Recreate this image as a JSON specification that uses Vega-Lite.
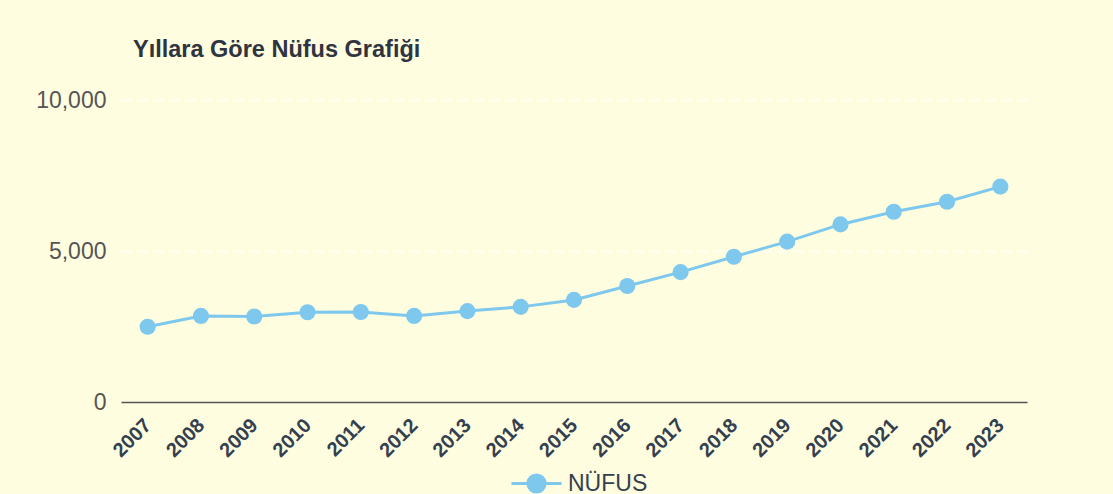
{
  "$schema": "https://vega.github.io/schema/vega-lite/v6.json",
  "width": 906,
  "height": 302,
  "autosize": {"type": "none"},
  "padding": {"left": 121, "top": 100, "right": 86, "bottom": 92},
  "background": "#fffddf",
  "config": {
    "view": {"stroke": null},
    "font": "Liberation Sans"
  },
  "title": {
    "text": "Yıllara Göre Nüfus Grafiği",
    "anchor": "start",
    "frame": "group",
    "dx": 12,
    "offset": 28,
    "fontSize": 23.5,
    "fontWeight": "bold",
    "color": "#2e3440",
    "font": "Liberation Sans"
  },
  "data": {
    "values": [
      {"year": "2007", "nufus": 2490, "series": "NÜFUS"},
      {"year": "2008", "nufus": 2850, "series": "NÜFUS"},
      {"year": "2009", "nufus": 2830, "series": "NÜFUS"},
      {"year": "2010", "nufus": 2970, "series": "NÜFUS"},
      {"year": "2011", "nufus": 2980, "series": "NÜFUS"},
      {"year": "2012", "nufus": 2850, "series": "NÜFUS"},
      {"year": "2013", "nufus": 3010, "series": "NÜFUS"},
      {"year": "2014", "nufus": 3150, "series": "NÜFUS"},
      {"year": "2015", "nufus": 3380, "series": "NÜFUS"},
      {"year": "2016", "nufus": 3840, "series": "NÜFUS"},
      {"year": "2017", "nufus": 4300, "series": "NÜFUS"},
      {"year": "2018", "nufus": 4810, "series": "NÜFUS"},
      {"year": "2019", "nufus": 5310, "series": "NÜFUS"},
      {"year": "2020", "nufus": 5880, "series": "NÜFUS"},
      {"year": "2021", "nufus": 6300, "series": "NÜFUS"},
      {"year": "2022", "nufus": 6630, "series": "NÜFUS"},
      {"year": "2023", "nufus": 7130, "series": "NÜFUS"}
    ]
  },
  "encoding": {
    "x": {
      "field": "year",
      "type": "ordinal",
      "scale": {"type": "point", "padding": 0.5},
      "axis": {
        "title": null,
        "labelAngle": -45,
        "labelAlign": "right",
        "labelBaseline": "middle",
        "labelFontSize": 20,
        "labelFontWeight": "bold",
        "labelColor": "#33404f",
        "labelPadding": 20,
        "ticks": false,
        "domainColor": "#555555",
        "domainWidth": 1.5,
        "grid": false
      }
    },
    "y": {
      "field": "nufus",
      "type": "quantitative",
      "scale": {"domain": [0, 10000], "nice": false},
      "axis": {
        "title": null,
        "values": [0, 5000, 10000],
        "format": ",d",
        "labelFontSize": 23,
        "labelColor": "#555555",
        "labelPadding": 15,
        "ticks": false,
        "domain": false,
        "grid": true,
        "gridColor": "#ffffff",
        "gridOpacity": 0.9,
        "gridDash": [10, 6],
        "gridWidth": 1.5
      }
    },
    "color": {
      "field": "series",
      "type": "nominal",
      "scale": {"range": ["#7ec8ee"]},
      "legend": {
        "title": null,
        "orient": "none",
        "legendX": 394,
        "legendY": 362,
        "symbolType": "M-1.25,0L1.25,0M-0.43,0A0.43,0.43,0,1,1,0.43,0A0.43,0.43,0,1,1,-0.43,0Z",
        "symbolSize": 1600,
        "symbolStrokeWidth": 3,
        "symbolFillColor": "#7ec8ee",
        "symbolStrokeColor": "#7ec8ee",
        "labelFontSize": 23,
        "labelColor": "#33404f",
        "labelOffset": 10
      }
    }
  },
  "layer": [
    {"mark": {"type": "line", "strokeWidth": 3}},
    {"mark": {"type": "point", "filled": true, "size": 260, "opacity": 1}}
  ]
}
